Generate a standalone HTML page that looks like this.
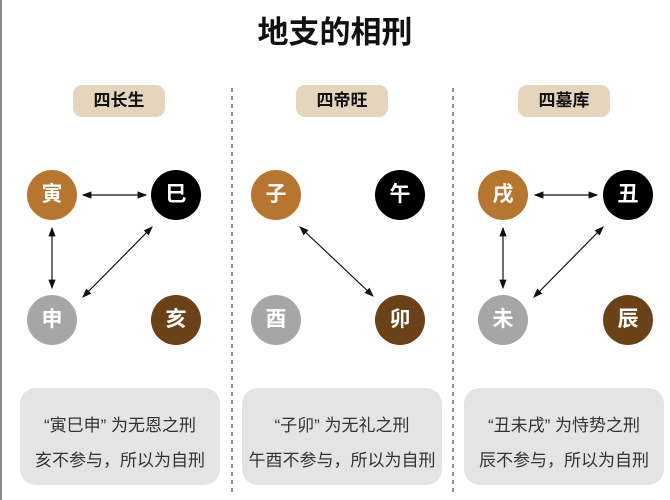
<!DOCTYPE html>
<html><head><meta charset="utf-8"><style>
body{margin:0;width:670px;height:500px;background:#fff;position:relative;overflow:hidden;font-family:"Liberation Sans","Noto Sans CJK SC",sans-serif}
.t{position:absolute;left:0;width:670px;top:7px;text-align:center;font-size:31px;font-weight:bold;color:#111}
.lb{position:absolute;top:85px;width:92px;height:32px;background:#e6d5bd;border-radius:9px;text-align:center;line-height:32px;font-size:17px;font-weight:bold;color:#111}
.c{position:absolute;width:50px;height:50px;border-radius:50%;color:#fff;font-size:21px;font-weight:bold;text-align:center;line-height:50px}
.o{background:#b6762f}.k{background:#000}.g{background:#a6a6a6}.b{background:#6b4217}
.bx{position:absolute;top:388px;width:200px;height:97px;background:#e4e4e4;border-radius:16px;font-size:17px;color:#333;text-align:center}
.bx div{position:absolute;left:0;width:200px;white-space:nowrap}
</style></head><body>
<div style="position:absolute;left:0;top:0;width:2px;height:500px;background:#8a8a8a"></div>
<div class="t">地支的相刑</div>
<div class="lb" style="left:73px">四长生</div>
<div class="lb" style="left:296px">四帝旺</div>
<div class="lb" style="left:518px">四墓库</div>
<svg width="670" height="500" style="position:absolute;left:0;top:0">
<defs><marker id="a" markerWidth="8" markerHeight="8" refX="7" refY="4" orient="auto-start-reverse"><path d="M0,1 L8,4 L0,7 Z" fill="#111"/></marker></defs>
<g stroke="#555" stroke-width="1.3" stroke-dasharray="4,4"><line x1="232" y1="88" x2="232" y2="495"/><line x1="453" y1="88" x2="453" y2="495"/></g>
<g stroke="#111" stroke-width="1.2" marker-start="url(#a)" marker-end="url(#a)">
<line x1="83" y1="195" x2="146" y2="195"/><line x1="52" y1="228" x2="52" y2="288"/><line x1="152" y1="227" x2="83" y2="297"/>
<line x1="300" y1="227" x2="373" y2="296"/>
<line x1="535" y1="195" x2="597" y2="195"/><line x1="503" y1="228" x2="503" y2="288"/><line x1="603" y1="227" x2="534" y2="297"/>
</g></svg>
<div class="c o" style="left:27px;top:170px">寅</div><div class="c k" style="left:151px;top:170px">巳</div>
<div class="c g" style="left:27px;top:295px">申</div><div class="c b" style="left:151px;top:295px">亥</div>
<div class="c o" style="left:251px;top:170px">子</div><div class="c k" style="left:375px;top:170px">午</div>
<div class="c g" style="left:251px;top:295px">酉</div><div class="c b" style="left:375px;top:295px">卯</div>
<div class="c o" style="left:478px;top:170px">戌</div><div class="c k" style="left:603px;top:170px">丑</div>
<div class="c g" style="left:478px;top:295px">未</div><div class="c b" style="left:603px;top:295px">辰</div>
<div class="bx" style="left:20px"><div style="top:23px">“寅巳申” 为无恩之刑</div><div style="top:58px">亥不参与，所以为自刑</div></div>
<div class="bx" style="left:242px"><div style="top:23px">“子卯” 为无礼之刑</div><div style="top:58px">午酉不参与，所以为自刑</div></div>
<div class="bx" style="left:464px"><div style="top:23px">“丑未戌” 为恃势之刑</div><div style="top:58px">辰不参与，所以为自刑</div></div>
</body></html>
